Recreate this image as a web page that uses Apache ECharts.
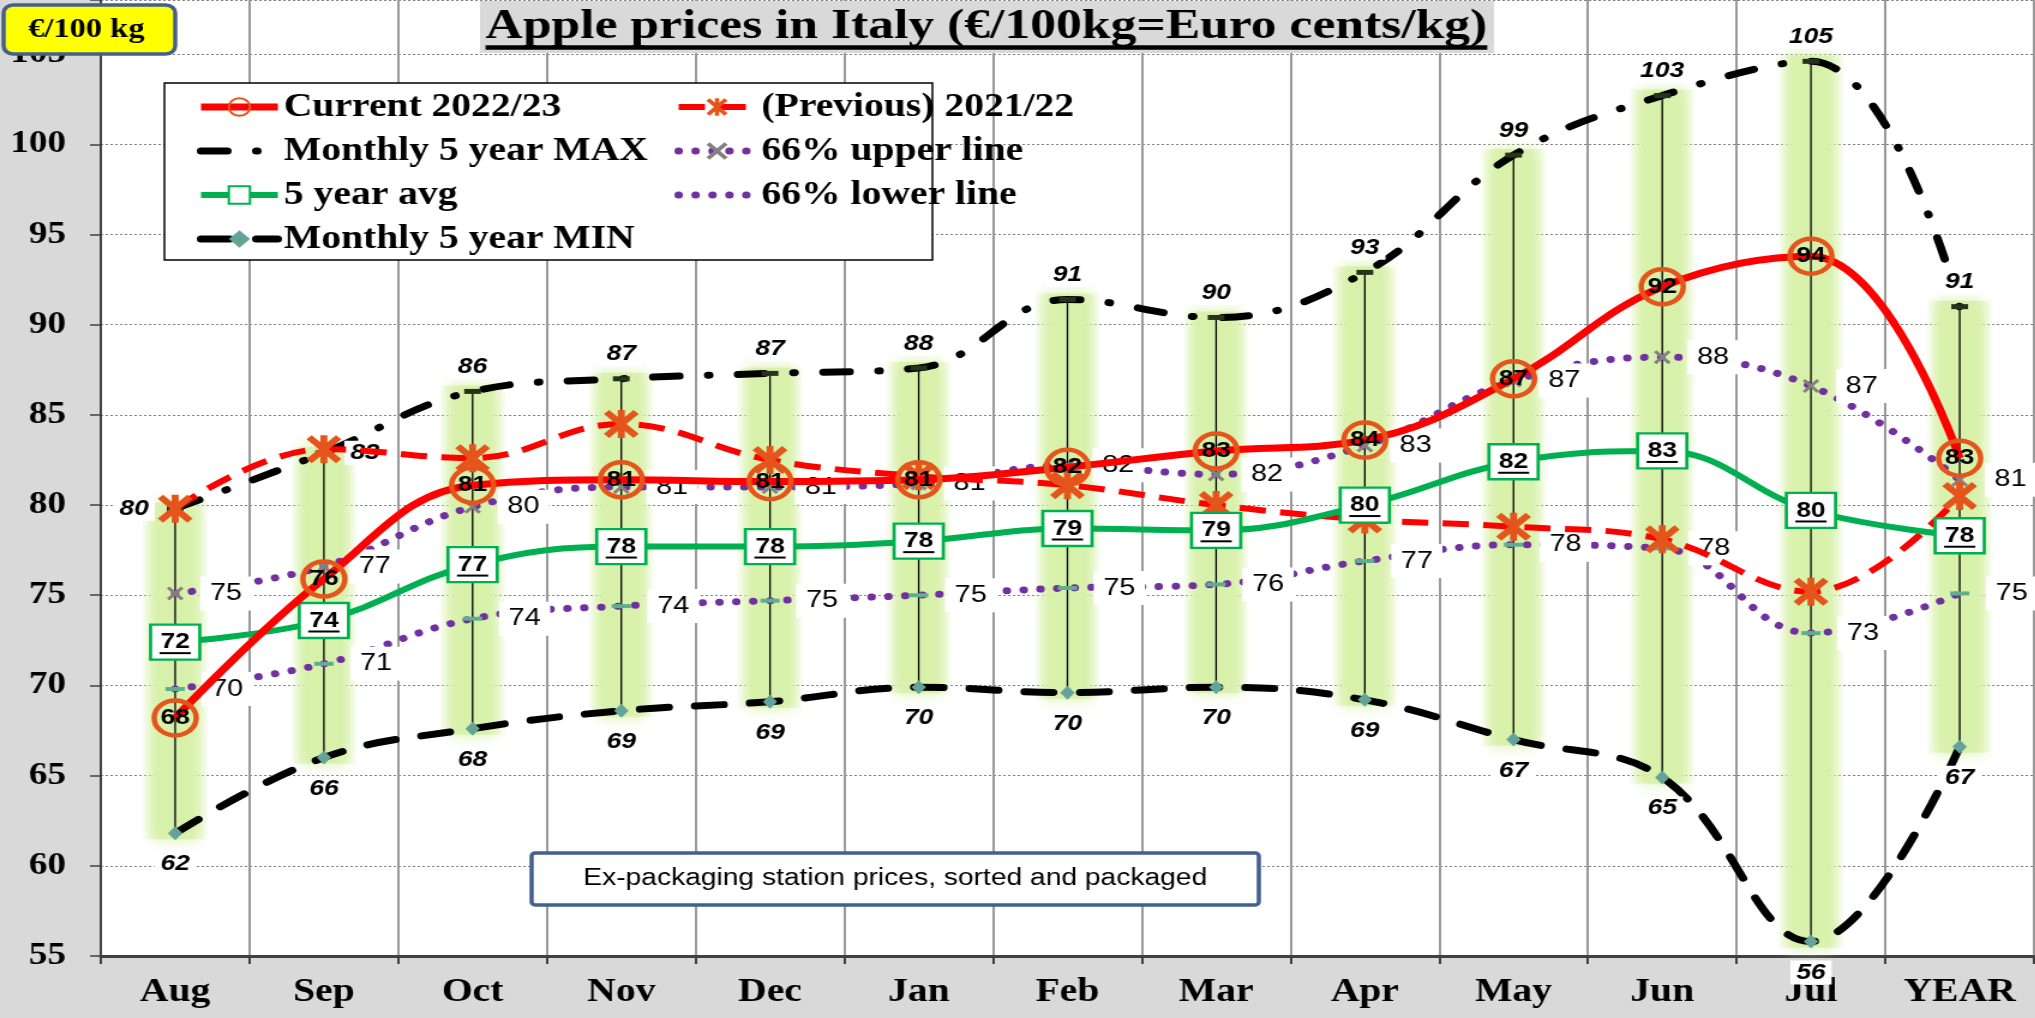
<!DOCTYPE html>
<html>
<head>
<meta charset="utf-8">
<title>Apple prices in Italy</title>
<script src="https://cdn.jsdelivr.net/npm/echarts@6/dist/echarts.min.js"></script>
<style>
  html, body { margin: 0; padding: 0; background: #d9d9d9; overflow: hidden; }
  /* the source picture is stretched sideways, so the chart is drawn narrower and scaled */
  #chart { position: absolute; left: 0; top: 0; width: 1696px; height: 1018px; transform: scaleX(1.2); transform-origin: 0 0; }
</style>
</head>
<body>
<div id="chart"></div>
<script>
const categories = ['Aug', 'Sep', 'Oct', 'Nov', 'Dec', 'Jan', 'Feb', 'Mar', 'Apr', 'May', 'Jun', 'Jul', 'YEAR'];
const current  = [68.2, 75.9, 81.1, 81.4, 81.3, 81.4, 82.1, 83.0, 83.6, 87.0, 92.1, 93.8, 82.6];
const previous = [79.8, 83.1, 82.6, 84.5, 82.5, 81.6, 81.1, 80.0, 79.2, 78.8, 78.1, 75.2, 80.5];
const max5     = [79.8, 82.9, 86.3, 87.0, 87.3, 87.6, 91.4, 90.4, 92.9, 99.4, 102.7, 104.6, 91.0];
const min5     = [61.8, 66.0, 67.6, 68.6, 69.1, 69.9, 69.6, 69.9, 69.2, 67.0, 64.9, 55.8, 66.6];
const avg5     = [72.4, 73.6, 76.7, 77.7, 77.7, 78.0, 78.7, 78.6, 80.0, 82.4, 83.0, 79.7, 78.3];
const upper66  = [75.1, 76.6, 79.9, 81.0, 81.0, 81.2, 82.2, 81.7, 83.3, 86.9, 88.2, 86.6, 81.4];
const lower66  = [69.8, 71.2, 73.7, 74.4, 74.7, 75.0, 75.4, 75.6, 76.9, 77.8, 77.6, 72.9, 75.1];

const SERIF = '"Liberation Serif", "Times New Roman", serif';
const SANS = '"Liberation Sans", Arial, sans-serif';
const TITLE = 'Apple prices in Italy (€/100kg=Euro cents/kg)';

const ASTERISK = 'path://M8,0H12V20H8Z M0,3L3,0L20,17L17,20Z M17,0L20,3L3,20L0,17Z';
const CROSS = 'path://M0,1.5L1.5,0L10,8.5L8.5,10Z M8.5,0L10,1.5L1.5,10L0,8.5Z';
const GLOW = 'rgba(216,241,170,';

const chart = echarts.init(document.getElementById('chart'));

// width of the title text, for the underline
const ctx = document.createElement('canvas').getContext('2d');
ctx.font = 'bold 43px ' + SERIF;
const titleW = ctx.measureText(TITLE).width;
const titleX = 822;

const rounded = p => String(Math.round(p.value));

function renderRange(params, api) {
  const lo = api.coord([api.value(0), api.value(1)]);
  const hi = api.coord([api.value(0), api.value(2)]);
  const glow = new echarts.graphic.LinearGradient(0, 0, 1, 0, [
    { offset: 0, color: GLOW + '0)' },
    { offset: 0.25, color: GLOW + '0.85)' },
    { offset: 0.5, color: GLOW + '1)' },
    { offset: 0.75, color: GLOW + '0.85)' },
    { offset: 1, color: GLOW + '0)' }
  ]);
  return {
    type: 'group',
    children: [
      { type: 'rect', shape: { x: lo[0] - 28, y: hi[1] - 6, width: 56, height: lo[1] - hi[1] + 12 },
        style: { fill: glow, shadowBlur: 14, shadowColor: GLOW + '1)' } },
      { type: 'line', shape: { x1: hi[0], y1: hi[1], x2: lo[0], y2: lo[1] },
        style: { stroke: '#000', lineWidth: 1.3 } }
    ]
  };
}

function renderUnderline(params, api) {
  const p = api.coord([api.value(0), api.value(1)]);
  return { type: 'line', shape: { x1: p[0] - 13, y1: p[1] + 11, x2: p[0] + 13, y2: p[1] + 11 },
    style: { stroke: '#000', lineWidth: 2 } };
}

const legendText = { fontFamily: SERIF, fontWeight: 'bold', fontSize: 33, lineHeight: 36, color: '#000' };

const option = {
  animation: false,
  backgroundColor: '#d9d9d9',
  grid: { left: 84, right: 1, top: 0, bottom: 62, show: true, backgroundColor: '#fff', borderWidth: 0, outerBoundsMode: 'none' },
  legend: [
    {
      data: ['Current 2022/23', { name: 'Monthly 5 year MAX', itemStyle: { opacity: 0 } }, '5 year avg', 'Monthly 5 year MIN'],
      orient: 'vertical', left: 164, top: 89, padding: 0, itemGap: 8, itemWidth: 64, itemHeight: 22, z: 11,
      lineStyle: { width: 'inherit' }, textStyle: legendText
    },
    {
      data: ['(Previous) 2021/22', '66% upper line', { name: '66% lower line', itemStyle: { opacity: 0 } }],
      orient: 'vertical', left: 562, top: 89, padding: 0, itemGap: 8, itemWidth: 64, itemHeight: 22, z: 11,
      lineStyle: { width: 'inherit' }, textStyle: legendText
    }
  ],
  xAxis: {
    type: 'category', data: categories, boundaryGap: true,
    axisLine: { lineStyle: { color: '#404040', width: 3 } },
    axisTick: { show: true, interval: 0, length: 8, lineStyle: { color: '#404040', width: 2 } },
    axisLabel: { interval: 0, margin: 20, fontFamily: SERIF, fontWeight: 'bold', fontSize: 33, color: '#000' },
    splitLine: { show: true, interval: 0, lineStyle: { color: '#9a9a9a', width: 2 } }
  },
  yAxis: {
    type: 'value', min: 55, max: 108, interval: 5,
    axisLine: { show: true, lineStyle: { color: '#404040', width: 2 } },
    axisTick: { show: true, length: 9, lineStyle: { color: '#404040', width: 1.5 } },
    axisLabel: { margin: 29, fontFamily: SERIF, fontWeight: 'bold', fontSize: 31, color: '#000',
      formatter: v => (v % 5 === 0 ? String(v) : '') },
    splitLine: { show: true, lineStyle: { color: '#7f7f7f', width: 1, type: [2, 2] } }
  },
  series: [
    {
      name: 'range', type: 'custom', silent: true, z: 1,
      data: categories.map((c, i) => [i, min5[i], max5[i]]),
      renderItem: renderRange
    },
    {
      name: 'Monthly 5 year MAX', type: 'line', smooth: 0.4, z: 2,
      data: max5.map((v, i) => i === 0 ? { value: v, label: { position: 'left' } }
        : i === 1 ? { value: v, label: { position: 'right' } } : v),
      symbol: 'rect', symbolSize: [14, 5],
      itemStyle: { color: '#26331a' },
      lineStyle: { color: '#000', width: 7, type: [22, 24, 1, 24], cap: 'round' },
      label: { show: true, position: 'top', distance: 10, formatter: rounded, fontFamily: SANS,
        fontStyle: 'italic', fontWeight: 'bold', fontSize: 22, color: '#000', backgroundColor: '#fff', padding: [1, 5] }
    },
    {
      name: 'Monthly 5 year MIN', type: 'line', smooth: 0.4, z: 2,
      data: min5,
      symbol: 'diamond', symbolSize: [12, 14],
      itemStyle: { color: '#63a39a' },
      lineStyle: { color: '#000', width: 7, type: [24, 22], cap: 'round' },
      label: { show: true, position: 'bottom', distance: 12, formatter: rounded, fontFamily: SANS,
        fontStyle: 'italic', fontWeight: 'bold', fontSize: 22, color: '#000', backgroundColor: '#fff', padding: [1, 5] }
    },
    {
      name: '66% upper line', type: 'line', smooth: 0.4, z: 2,
      data: upper66,
      symbol: CROSS, symbolSize: 14,
      itemStyle: { color: '#858080' },
      lineStyle: { color: '#7030a0', width: 7, type: [0.1, 14], cap: 'round' },
      label: { show: true, position: 'right', distance: 14, formatter: rounded, fontFamily: SANS,
        fontSize: 24, color: '#000', backgroundColor: '#fff', padding: [5, 8] }
    },
    {
      name: '66% lower line', type: 'line', smooth: 0.4, z: 2,
      data: lower66,
      symbol: 'rect', symbolSize: [16, 4],
      itemStyle: { color: '#5fae8e' },
      lineStyle: { color: '#7030a0', width: 7, type: [0.1, 14], cap: 'round' },
      label: { show: true, position: 'right', distance: 14, formatter: rounded, fontFamily: SANS,
        fontSize: 24, color: '#000', backgroundColor: '#fff', padding: [5, 8] }
    },
    {
      name: '(Previous) 2021/22', type: 'line', smooth: 0.4, z: 3,
      data: previous,
      symbol: ASTERISK, symbolSize: [29, 28],
      itemStyle: { color: '#e4541b' },
      lineStyle: { color: '#ff0000', width: 6, type: [22, 12] }
    },
    {
      name: '5 year avg', type: 'line', smooth: 0.4, z: 3,
      data: avg5,
      symbol: 'rect', symbolSize: [41, 35],
      itemStyle: { color: '#fff', borderColor: '#00b050', borderWidth: 2.5 },
      lineStyle: { color: '#00b050', width: 6 },
      label: { show: true, position: 'inside', formatter: rounded, fontFamily: SANS,
        fontWeight: 'bold', fontSize: 22, color: '#000' }
    },
    {
      name: 'avg underline', type: 'custom', silent: true, z: 4,
      data: avg5.map((v, i) => [i, v]),
      renderItem: renderUnderline
    },
    {
      name: 'Current 2022/23', type: 'line', smooth: 0.4, z: 5,
      data: current,
      symbol: 'circle', symbolSize: 35,
      itemStyle: { color: 'rgba(255,255,255,0)', borderColor: '#e4541b', borderWidth: 4.5 },
      lineStyle: { color: '#ff0000', width: 7 },
      label: { show: true, position: 'inside', formatter: rounded, fontFamily: SANS,
        fontWeight: 'bold', fontSize: 22, color: '#000' }
    }
  ],
  graphic: [
    // legend frame
    { type: 'rect', z: 10, shape: { x: 137, y: 83, width: 640, height: 177 },
      style: { fill: '#fff', stroke: '#000', lineWidth: 1.5 } },
    // title
    { type: 'rect', z: 20, shape: { x: 400, y: 1, width: 845, height: 52 }, style: { fill: '#d9d9d9' } },
    { type: 'text', z: 21, x: titleX, y: 27,
      style: { text: TITLE, font: 'bold 43px ' + SERIF, fill: '#000',
        textAlign: 'center', textVerticalAlign: 'middle', align: 'center', verticalAlign: 'middle' } },
    { type: 'line', z: 21, shape: { x1: titleX - titleW / 2, y1: 47.5, x2: titleX + titleW / 2, y2: 47.5 },
      style: { stroke: '#000', lineWidth: 4.5 } },
    // unit box
    { type: 'rect', z: 20, shape: { x: 3, y: 5, width: 143, height: 49, r: 8 },
      style: { fill: '#ffff00', stroke: '#41608f', lineWidth: 3.5 } },
    { type: 'text', z: 21, x: 72, y: 30,
      style: { text: '€/100 kg', font: 'bold 27px ' + SERIF, fill: '#000',
        textAlign: 'center', textVerticalAlign: 'middle', align: 'center', verticalAlign: 'middle' } },
    // note box
    { type: 'rect', z: 20, shape: { x: 443, y: 853, width: 606, height: 52, r: 3 },
      style: { fill: '#fff', stroke: '#41608f', lineWidth: 3.5 } },
    { type: 'text', z: 21, x: 746, y: 879,
      style: { text: 'Ex-packaging station prices, sorted and packaged', font: '23.5px ' + SANS, fill: '#000',
        textAlign: 'center', textVerticalAlign: 'middle', align: 'center', verticalAlign: 'middle' } }
  ]
};

chart.setOption(option);
</script>
</body>
</html>
